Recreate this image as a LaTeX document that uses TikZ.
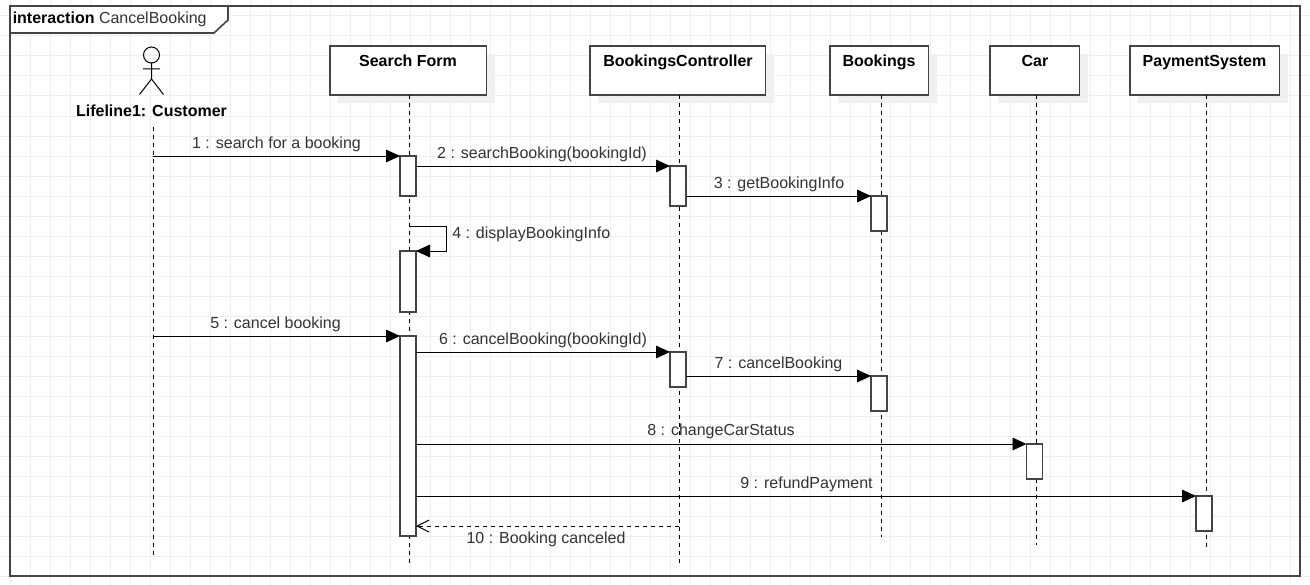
\documentclass[tikz,border=0pt]{standalone}
\usepackage{fontspec}
\setmainfont{Liberation Sans}
\usetikzlibrary{arrows.meta,shadows}
\definecolor{frameC}{HTML}{444444}
\definecolor{textC}{HTML}{333333}
\definecolor{gridC}{HTML}{EEEEEE}
\definecolor{shadowC}{HTML}{F0F0F0}
\tikzset{
  lifebox/.style={draw=frameC,fill=white,line width=1.05pt,outer sep=0pt,inner sep=0pt,anchor=north west,minimum height=49*0.75pt,
    general shadow={fill=shadowC,draw=none,shadow xshift=6pt,shadow yshift=-6pt}},
  boxtitle/.style={anchor=base,inner sep=0pt,font=\fontsize{12}{14}\selectfont\bfseries,text=black},
  actbox/.style={draw=frameC,fill=white,line width=1pt,outer sep=0pt,inner sep=0pt,anchor=north,minimum width=16*0.75pt},
  lifeline/.style={black,line width=0.75pt,dash pattern=on 3pt off 3pt},
  msg/.style={black,line width=0.7pt,-{Triangle[length=10.5pt,width=9.5pt]}},
  ret/.style={black,line width=0.75pt,dash pattern=on 3pt off 3pt,-{Straight Barb[length=9pt,width=9pt,line width=0.75pt]}},
  msglabel/.style={anchor=base,inner sep=0pt,font=\fontsize{12}{14}\selectfont,text=textC},
  actorline/.style={black,line width=0.75pt}
}
\newcommand{\actb}[4]{\node[actbox,minimum height=#4*0.75pt] (#1) at (#2,#3) {};}
\begin{document}
\begin{tikzpicture}[x=0.75pt,y=-0.75pt]
\useasboundingbox (0,0) rectangle (1310,585);
\fill[white] (0,0) rectangle (1310,585);
% grid
\foreach \gx in {10,30,...,1310} \draw[gridC,line width=0.75pt] (\gx,0) -- (\gx,585);
\foreach \gy in {16,36,...,585} \draw[gridC,line width=0.75pt] (0,\gy) -- (1310,\gy);
% frame
\draw[frameC,line width=1.2pt] (10,6) rectangle (1300,576);
\draw[frameC,line width=1.2pt,fill=white] (10,6) -- (228,6) -- (228,20) -- (214,33) -- (10,33) -- cycle;
\node[anchor=base west,inner sep=0pt,font=\fontsize{12}{14}\selectfont,text=textC] (ftitle) at (12.5,24) {\textbf{\textcolor{black}{interaction}} CancelBooking};
% actor
\node[draw=black,circle,line width=0.75pt,minimum size=16*0.75pt,inner sep=0pt,outer sep=0pt] (head) at (151.5,55) {};
\coordinate (hip) at (151.5,79);
\coordinate (armL) at (143,69);
\coordinate (armR) at (160,69);
\coordinate (legL) at (139.5,94.5);
\coordinate (legR) at (163.5,94.5);
\draw[actorline] (head.south) -- (hip) (armL) -- (armR) (legL) -- (hip) -- (legR);
\node[boxtitle] (custlabel) at (151.5,117) {Lifeline1: Customer};
% lifeline heads
\node[lifebox,minimum width=156.5*0.75pt] (sf) at (330,46) {};
\node[lifebox,minimum width=175.5*0.75pt] (bc) at (590,46) {};
\node[lifebox,minimum width=98.5*0.75pt] (bk) at (830,46) {};
\node[lifebox,minimum width=89.5*0.75pt] (car) at (990,46) {};
\node[lifebox,minimum width=149.5*0.75pt] (ps) at (1130,46) {};
\node[boxtitle] (sft) at (408,67) {Search Form};
\node[boxtitle] (bct) at (678,67) {BookingsController};
\node[boxtitle] (bkt) at (879,67) {Bookings};
\node[boxtitle] (cart) at (1035,67) {Car};
\node[boxtitle] (pst) at (1204.5,67) {PaymentSystem};
% lifelines
\coordinate (cTop) at (153,127);
\coordinate (cEnd) at (153,555);
\coordinate (sfTop) at (409,95);
\coordinate (sfEnd) at (409,563);
\coordinate (bcTop) at (679,95);
\coordinate (bcEnd) at (679,563);
\coordinate (bkTop) at (881,95);
\coordinate (bkEnd) at (881,537);
\coordinate (carTop) at (1036,95);
\coordinate (carEnd) at (1036,545);
\coordinate (psTop) at (1206,95);
\coordinate (psEnd) at (1206,548);
\draw[lifeline] (cTop) -- (cEnd);
\draw[lifeline] (sfTop) -- (sfEnd);
\draw[lifeline] (bcTop) -- (bcEnd);
\draw[lifeline] (bkTop) -- (bkEnd);
\draw[lifeline] (carTop) -- (carEnd);
\draw[lifeline] (psTop) -- (psEnd);
% activations
\actb{aA}{408}{156}{40}
\actb{aB}{678}{166}{40}
\actb{aC}{879}{196}{35}
\actb{aD}{408}{251}{61}
\actb{aE}{408}{336}{200}
\actb{aF}{678}{352}{35}
\actb{aG}{879}{376}{35}
\actb{aH}{1034.5}{444}{35}
\actb{aI}{1204}{496}{35}
% messages
\draw[msg] (cTop |- aA.north) -- (aA.north west);
\draw[msg] (aA.east |- aB.north) -- (aB.north west);
\draw[msg] (aB.east |- aC.north) -- (aC.north west);
\coordinate (selfS) at (409,226);
\coordinate (selfC1) at (446,226);
\coordinate (selfC2) at (446,251);
\draw[msg] (selfS) -- (selfC1) -- (selfC2) -- (aD.north east);
\draw[msg] (cTop |- aE.north) -- (aE.north west);
\draw[msg] (aE.east |- aF.north) -- (aF.north west);
\draw[msg] (aF.east |- aG.north) -- (aG.north west);
\draw[msg] (aE.east |- aH.north) -- (aH.north west);
\draw[msg] (aE.east |- aI.north) -- (aI.north west);
\coordinate (retS) at (679,526);
\draw[ret] (retS) -- (aE.east |- retS);
% labels
\node[msglabel] (l1) at (276.5,148) {1 : search for a booking};
\node[msglabel] (l2) at (542,158) {2 : searchBooking(bookingId)};
\node[msglabel] (l3) at (779,188) {3 : getBookingInfo};
\node[msglabel,anchor=base west] (l4) at (452,238) {4 : displayBookingInfo};
\node[msglabel] (l5) at (275.5,328) {5 : cancel booking};
\node[msglabel] (l6) at (543,344) {6 : cancelBooking(bookingId)};
\node[msglabel] (l7) at (778.5,368) {7 : cancelBooking};
\node[msglabel] (l8) at (721,435) {8 : changeCarStatus};
\node[msglabel] (l9) at (806.5,488) {9 : refundPayment};
\node[msglabel] (l10) at (546,543) {10 : Booking canceled};
\end{tikzpicture}
\end{document}
